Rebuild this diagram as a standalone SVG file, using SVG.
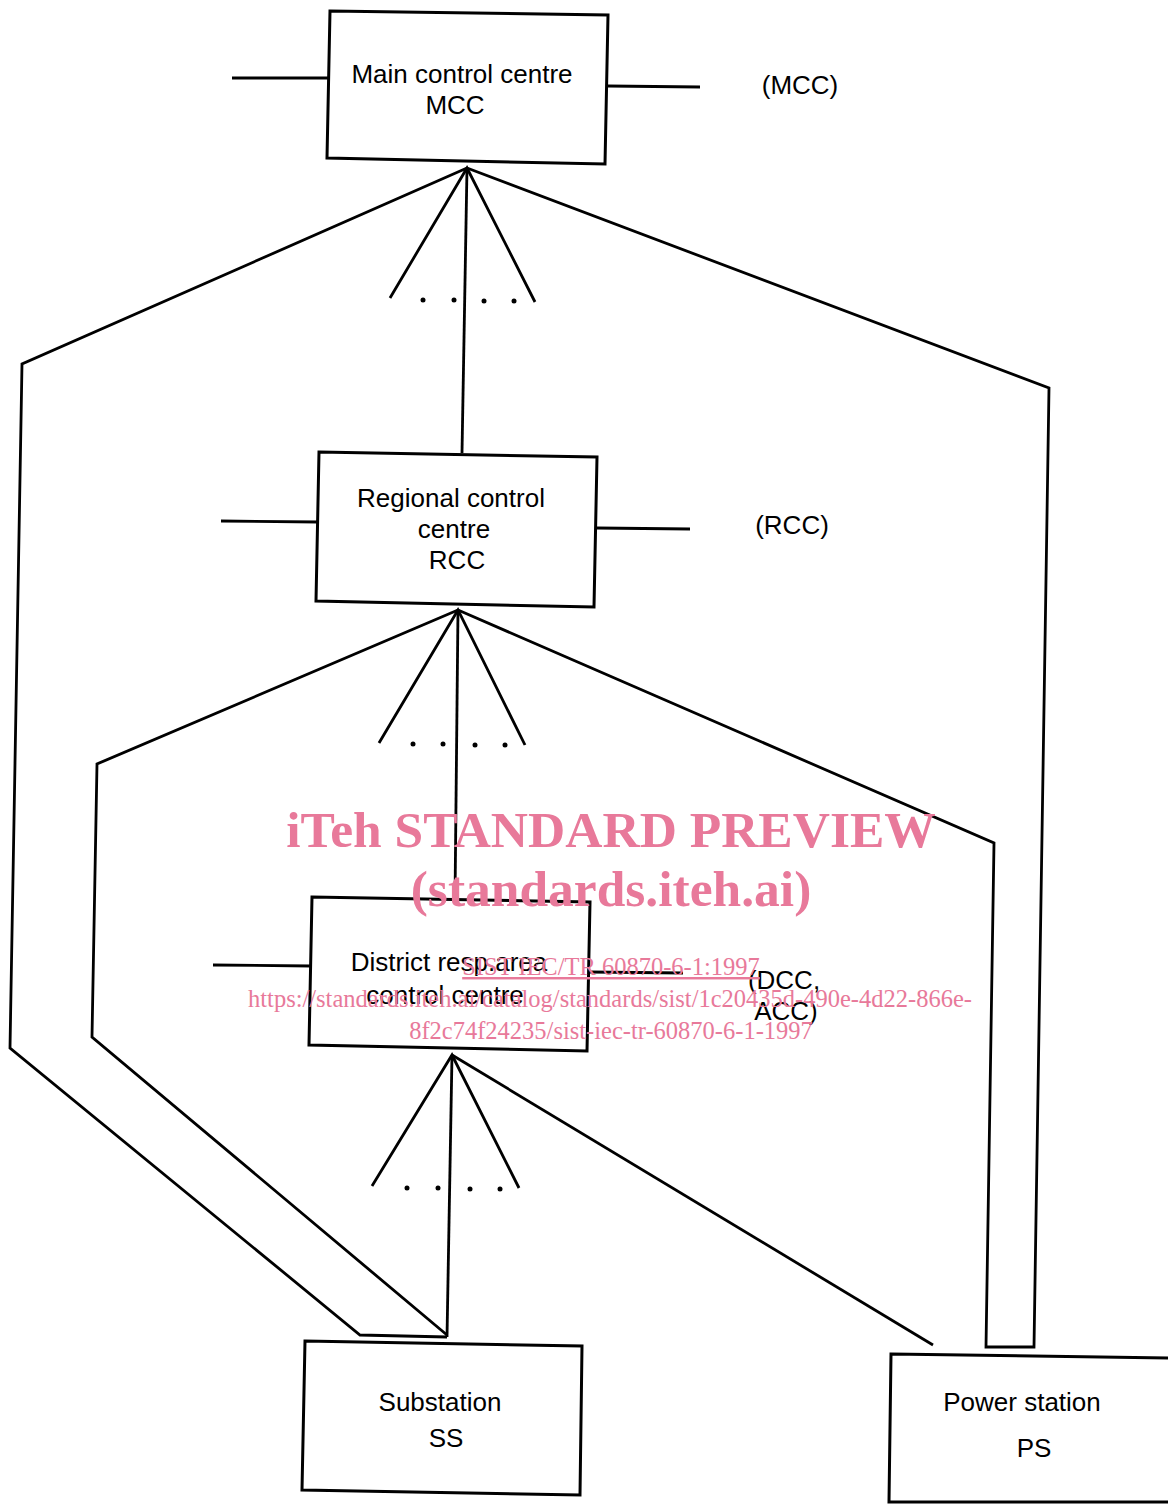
<svg xmlns="http://www.w3.org/2000/svg" width="1168" height="1504" viewBox="0 0 1168 1504">
<style>
.box{fill:#fff;stroke:#000;stroke-width:3}
.ln{fill:none;stroke:#000;stroke-width:2.8;stroke-linejoin:miter}
.t{font-family:"Liberation Sans",Arial,sans-serif;font-size:26px;fill:#000;text-anchor:middle}
.wm{font-family:"Liberation Serif","Times New Roman",serif;fill:#e8799a;text-anchor:middle}
.dot{fill:#000}
</style>
<rect width="1168" height="1504" fill="#fff"/>
<g id="connectors">
  <path class="ln" d="M232,78 L330,78"/>
  <path class="ln" d="M608,86 L700,87"/>
  <path class="ln" d="M390,298 L467,168 L535,302"/>
  <path class="ln" d="M467,168 L462,453"/>
  <path class="ln" d="M467,168 L22,364 L10,1048 L360,1335 L447,1337"/>
  <path class="ln" d="M467,168 L1049,388 L1034,1347 L986,1347 L994,843 L458,610"/>
  <path class="ln" d="M221,521 L318,522"/>
  <path class="ln" d="M597,528 L690,529"/>
  <path class="ln" d="M379,743 L458,610 L525,745"/>
  <path class="ln" d="M458,610 L455,900"/>
  <path class="ln" d="M458,610 L97,764 L92,1037 L447,1335"/>
  <path class="ln" d="M213,965 L311,966"/>
  <path class="ln" d="M590,972 L683,973"/>
  <path class="ln" d="M372,1186 L452,1055 L519,1188"/>
  <path class="ln" d="M452,1055 L447,1337"/>
  <path class="ln" d="M452,1055 L933,1345"/>
  <circle class="dot" cx="423" cy="300" r="2.5"/>
  <circle class="dot" cx="454" cy="300" r="2.5"/>
  <circle class="dot" cx="484" cy="301" r="2.5"/>
  <circle class="dot" cx="514" cy="301" r="2.5"/>
  <circle class="dot" cx="413" cy="744" r="2.5"/>
  <circle class="dot" cx="443" cy="744" r="2.5"/>
  <circle class="dot" cx="475" cy="745" r="2.5"/>
  <circle class="dot" cx="505" cy="745" r="2.5"/>
  <circle class="dot" cx="407" cy="1188" r="2.5"/>
  <circle class="dot" cx="438" cy="1188" r="2.5"/>
  <circle class="dot" cx="470" cy="1189" r="2.5"/>
  <circle class="dot" cx="500" cy="1189" r="2.5"/>
</g>
<g id="mcc">
  <polygon class="box" points="330,11 608,15 605,164 327,158"/>
  <text class="t" x="462" y="83">Main control centre</text>
  <text class="t" x="455" y="114">MCC</text>
</g>
<g id="mcc-label"><text class="t" x="800" y="94">(MCC)</text></g>
<g id="rcc">
  <polygon class="box" points="319,452 597,457 594,607 316,601"/>
  <text class="t" x="451" y="507">Regional control</text>
  <text class="t" x="454" y="538">centre</text>
  <text class="t" x="457" y="569">RCC</text>
</g>
<g id="rcc-label"><text class="t" x="792" y="534">(RCC)</text></g>
<g id="dcc">
  <polygon class="box" points="312,897 590,902 587,1051 309,1045"/>
  <text class="t" x="449" y="971">District resp.area</text>
  <text class="t" x="445" y="1004">control centre</text>
</g>
<g id="dcc-label">
  <text class="t" x="784" y="989">(DCC,</text>
  <text class="t" x="786" y="1020">ACC)</text>
</g>
<g id="ss">
  <polygon class="box" points="305,1341 582,1346 580,1495 302,1490"/>
  <text class="t" x="440" y="1411">Substation</text>
  <text class="t" x="446" y="1447">SS</text>
</g>
<g id="ps">
  <polygon class="box" points="891,1354 1170,1358 1170,1502 889,1502"/>
  <text class="t" x="1022" y="1411">Power station</text>
  <text class="t" x="1034" y="1457">PS</text>
</g>
<g id="watermark">
  <text class="wm" x="611" y="847" font-size="51.5" font-weight="bold">iTeh STANDARD PREVIEW</text>
  <text class="wm" x="611" y="906" font-size="51.5" font-weight="bold">(standards.iteh.ai)</text>
  <text class="wm" x="611" y="975" font-size="24.5" text-decoration="underline">SIST IEC/TR 60870-6-1:1997</text>
  <text class="wm" x="610" y="1007" font-size="24.5">https://standards.iteh.ai/catalog/standards/sist/1c20435d-490e-4d22-866e-</text>
  <text class="wm" x="611" y="1039" font-size="24.5">8f2c74f24235/sist-iec-tr-60870-6-1-1997</text>
</g>
</svg>
